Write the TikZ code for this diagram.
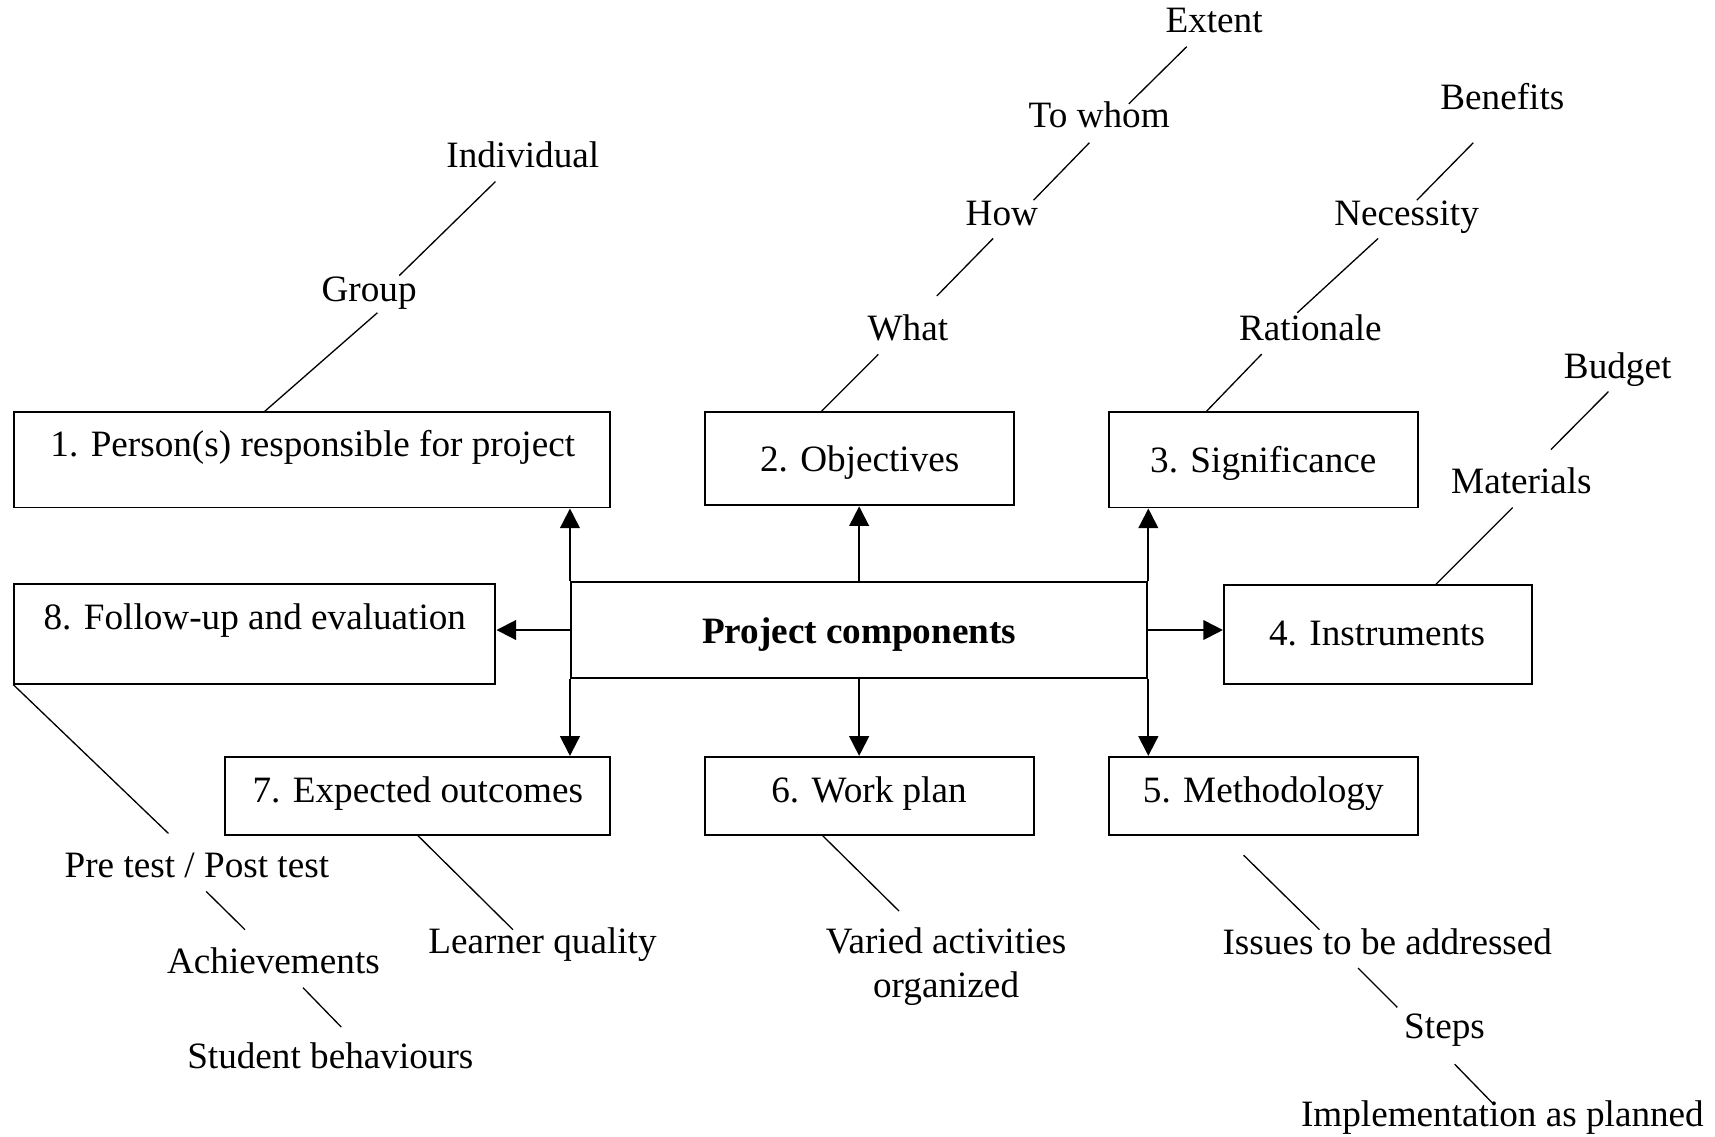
\documentclass[tikz,border=0pt]{standalone}
\usepackage{fontspec}
\setmainfont{Liberation Serif}
\usetikzlibrary{arrows.meta}
\newcommand\lbfont{\fontsize{17}{20}\selectfont}
\begin{document}
\begin{tikzpicture}[x=0.5pt,y=-0.5pt,
  box/.style={draw, line width=0.9pt, rectangle, inner sep=0pt},
  txt/.style={inner sep=0pt, anchor=base, font=\lbfont},
  arr/.style={line width=0.9pt, -{Triangle[length=9pt,width=9pt]}},
  lead/.style={line width=0.6pt}]
% page
\fill[white] (0,0) rectangle (1568,1039);

% component boxes
\node[box, minimum width=272.5pt, minimum height=43.5pt] (b1) at (285.5,420.5) {};
\node[box, minimum width=141pt,   minimum height=42.5pt] (b2) at (786,419.5) {};
\node[box, minimum width=141pt,   minimum height=43.5pt] (b3) at (1155,420.5) {};
\node[box, minimum width=141pt,   minimum height=45pt]   (b4) at (1260,580) {};
\node[box, minimum width=141pt,   minimum height=35.5pt] (b5) at (1155,727.5) {};
\node[box, minimum width=150pt,   minimum height=35.5pt] (b6) at (795,727.5) {};
\node[box, minimum width=176pt,   minimum height=35.5pt] (b7) at (382,727.5) {};
\node[box, minimum width=220pt,   minimum height=45.5pt] (b8) at (233,579.5) {};
\node[box, minimum width=263.5pt, minimum height=44pt]   (pc) at (785.5,576) {};

% box captions
\node[txt] (t1) at (286,417.5) {1. Person(s) responsible for project};
\node[txt] (t2) at (786,431.5) {2. Objectives};
\node[txt] (t3) at (1155,432) {3. Significance};
\node[txt] (t4) at (1259,590) {4. Instruments};
\node[txt] (t5) at (1155,734) {5. Methodology};
\node[txt] (t6) at (794.5,734) {6. Work plan};
\node[txt] (t7) at (382,734) {7. Expected outcomes};
\node[txt] (t8) at (233,575.5) {8. Follow-up and evaluation};
\node[txt, font=\lbfont\bfseries] (tpc) at (785.5,588) {Project components};

% arrows out of the central box
\draw[arr] (pc.north west) -- (pc.north west |- b1.south);
\draw[arr] (pc.north) -- (pc.north |- b2.south);
\draw[arr] (pc.north east) -- (pc.north east |- b3.south);
\draw[arr] (pc.east) -- (pc.east -| b4.west);
\draw[arr] (pc.south east) -- (pc.south east |- b5.north);
\draw[arr] (pc.south) -- (pc.south |- b6.north);
\draw[arr] (pc.south west) -- (pc.south west |- b7.north);
\draw[arr] (pc.west) -- (pc.west -| b8.east);

% detail labels
\node[txt] (ind) at (478,153) {Individual};
\node[txt] (grp) at (337.5,276) {Group};
\node[txt] (ext) at (1110,30) {Extent};
\node[txt] (tow) at (1005,117) {To whom};
\node[txt] (how) at (916,206) {How};
\node[txt] (wht) at (830,311) {What};
\node[txt] (ben) at (1373.6,100) {Benefits};
\node[txt] (nec) at (1286,206) {Necessity};
\node[txt] (rat) at (1198,311.5) {Rationale};
\node[txt] (bud) at (1479,346) {Budget};
\node[txt] (mat) at (1391,451) {Materials};
\node[txt] (iss) at (1268.4,873) {Issues to be addressed};
\node[txt] (stp) at (1320.7,949.3) {Steps};
\node[txt] (imp) at (1373.6,1030) {Implementation as planned};
\node[txt] (var) at (865,872) {Varied activities};
\node[txt] (var2) at (865,912) {organized};
\node[txt] (lrn) at (496,872) {Learner quality};
\node[txt] (pre) at (180,802) {Pre test / Post test};
\node[txt] (ach) at (250,890) {Achievements};
\node[txt] (stu) at (302,977) {Student behaviours};

% leader lines
\draw[lead] ([shift={(-43.5,0)}]b1.north) -- ([shift={(7.5,10)}]grp.base);
\draw[lead] ([shift={(27.5,-24)}]grp.base) -- ([shift={(-25,13)}]ind.base);

\draw[lead] ([shift={(-35,0)}]b2.north) -- ([shift={(-27,13)}]wht.base);
\draw[lead] ([shift={(26.5,-40.4)}]wht.base) -- ([shift={(-8,12)}]how.base);
\draw[lead] ([shift={(29,-23)}]how.base) -- ([shift={(-9,13.5)}]tow.base);
\draw[lead] ([shift={(27,-22)}]tow.base) -- ([shift={(-25,12.7)}]ext.base);

\draw[lead] ([shift={(-52,0)}]b3.north) -- ([shift={(-44.4,12.2)}]rat.base);
\draw[lead] ([shift={(-12,-25.5)}]rat.base) -- ([shift={(-26,12)}]nec.base);
\draw[lead] ([shift={(9.4,-23)}]nec.base) -- ([shift={(-26.6,30.5)}]ben.base);

\draw[lead] ([shift={(53,0)}]b4.north) -- ([shift={(-8,13)}]mat.base);
\draw[lead] ([shift={(27,-40)}]mat.base) -- ([shift={(-8.4,12)}]bud.base);

\draw[lead] ([shift={(-18,18)}]b5.south) -- ([shift={(-62,-23)}]iss.base);
\draw[lead] ([shift={(-26.8,12)}]iss.base) -- ([shift={(-43.2,-28.3)}]stp.base);
\draw[lead] ([shift={(9.3,23.7)}]stp.base) -- ([shift={(-7.6,-20)}]imp.base);

\draw[lead] ([shift={(-43,0)}]b6.south) -- ([shift={(-43,-39)}]var.base);

\draw[lead] (b7.south) -- ([shift={(-27,-22)}]lrn.base);

\draw[lead] (b8.south west) -- ([shift={(-26,-40)}]pre.base);
\draw[lead] ([shift={(8.5,13)}]pre.base) -- ([shift={(-26,-40)}]ach.base);
\draw[lead] ([shift={(27,13)}]ach.base) -- ([shift={(10,-38)}]stu.base);
\end{tikzpicture}
\end{document}
